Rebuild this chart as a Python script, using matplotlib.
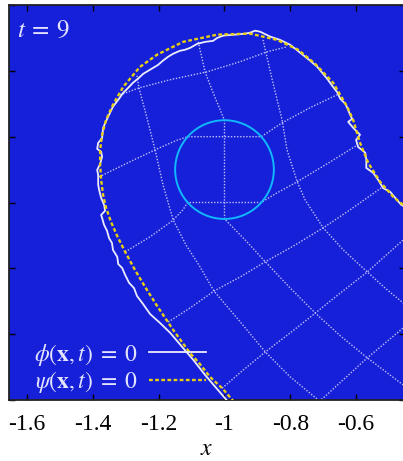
import matplotlib
matplotlib.use("Agg")
import matplotlib.pyplot as plt
from matplotlib.patches import Circle
from matplotlib.lines import Line2D

plt.rcParams['font.family'] = ['Liberation Serif', 'DejaVu Serif']
plt.rcParams['mathtext.fontset'] = 'stix'
plt.rcParams['axes.unicode_minus'] = False

# ---------------- data ----------------
time_label = r"$t\:=\:9$"
x_ticks = [-1.6, -1.4, -1.2, -1.0, -0.8, -0.6]
x_tick_labels = ["-1.6", "-1.4", "-1.2", "-1", "-0.8", "-0.6"]
y_ticks = [-0.6, -0.4, -0.2, 0.0, 0.2, 0.4, 0.6]

# psi(x,t)=0 : smooth interface (yellow dashed)
psi_x = [-0.971, -1.007, -1.044, -1.077, -1.105, -1.156, -1.205, -1.241, -1.272,
         -1.302, -1.326, -1.345, -1.360, -1.369, -1.375, -1.378, -1.378, -1.372,
         -1.360, -1.339, -1.308, -1.257, -1.205, -1.126, -1.022, -0.922, -0.840,
         -0.776, -0.724, -0.670, -0.627, -0.609, -0.588, -0.563, -0.527, -0.487,
         -0.457, -0.421]
psi_y = [-0.606, -0.564, -0.530, -0.488, -0.457, -0.387, -0.314, -0.257, -0.205,
         -0.150, -0.102, -0.059, -0.016, 0.023, 0.069, 0.114, 0.160, 0.206,
         0.251, 0.297, 0.351, 0.412, 0.449, 0.488, 0.510, 0.513, 0.494,
         0.464, 0.421, 0.364, 0.291, 0.251, 0.181, 0.120, 0.063, 0.017,
         -0.007, -0.032]

# phi(x,t)=0 : jagged interface (white)
phi_x = [-0.986, -1.022, -1.059, -1.095, -1.126, -1.165, -1.196, -1.226, -1.250,
         -1.266, -1.275, -1.290, -1.302, -1.311, -1.323, -1.326, -1.339, -1.342,
         -1.351, -1.357, -1.366, -1.372, -1.375, -1.363, -1.366, -1.375, -1.381,
         -1.384, -1.384, -1.387, -1.378, -1.372, -1.375, -1.387, -1.384, -1.372,
         -1.369, -1.354, -1.339, -1.323, -1.308, -1.293, -1.278, -1.263, -1.247,
         -1.232, -1.217, -1.202, -1.187, -1.171, -1.156, -1.135, -1.120, -1.104,
         -1.083, -1.059, -1.035, -1.022, -1.004, -0.968, -0.937, -0.922, -0.907,
         -0.892, -0.861, -0.831, -0.800, -0.770, -0.740, -0.718, -0.703, -0.688,
         -0.670, -0.658, -0.648, -0.633, -0.627, -0.618, -0.612, -0.624, -0.609,
         -0.588, -0.600, -0.594, -0.572, -0.569, -0.569, -0.548, -0.533, -0.518,
         -0.496, -0.481, -0.463, -0.436]
phi_y = [-0.609, -0.567, -0.524, -0.478, -0.442, -0.396, -0.366, -0.339, -0.305,
         -0.284, -0.260, -0.244, -0.220, -0.199, -0.187, -0.165, -0.144, -0.123,
         -0.108, -0.086, -0.068, -0.047, -0.038, -0.025, -0.007, 0.014, 0.038,
         0.054, 0.084, 0.099, 0.117, 0.139, 0.154, 0.163, 0.181, 0.196,
         0.227, 0.260, 0.291, 0.312, 0.333, 0.348, 0.364, 0.376, 0.391,
         0.400, 0.409, 0.418, 0.431, 0.443, 0.452, 0.461, 0.464, 0.470,
         0.482, 0.488, 0.491, 0.500, 0.507, 0.510, 0.513, 0.516, 0.522,
         0.519, 0.504, 0.494, 0.479, 0.455, 0.431, 0.412, 0.394, 0.376,
         0.351, 0.336, 0.315, 0.300, 0.288, 0.266, 0.254, 0.245, 0.227,
         0.206, 0.190, 0.169, 0.151, 0.130, 0.105, 0.090, 0.069, 0.044,
         0.032, 0.014, -0.007, -0.022]

# reference circle
circle_center_x = -1.0
circle_center_y = 0.1
circle_radius = 0.15

# deformed mesh lines (originally x = const)
mesh_xm12_x = [-1.266, -1.260, -1.238, -1.211, -1.187, -1.156, -1.117, -1.074, -1.032,
               -0.952, -0.876, -0.800, -0.715, -0.703]
mesh_xm12_y = [0.385, 0.348, 0.266, 0.160, 0.054, -0.053, -0.129, -0.196, -0.269,
               -0.363, -0.454, -0.530, -0.600, -0.609]
mesh_xm10_x = [-1.080, -1.059, -1.038, -1.022, -1.000, -1.000, -0.937, -0.876, -0.800,
               -0.724, -0.648, -0.566, -0.457, -0.420]
mesh_xm10_y = [0.488, 0.397, 0.342, 0.303, 0.250, -0.050, -0.114, -0.180, -0.260,
               -0.336, -0.405, -0.472, -0.554, -0.582]
mesh_xm08_x = [-0.883, -0.855, -0.825, -0.810, -0.779, -0.755, -0.700, -0.639, -0.566,
               -0.512, -0.457, -0.420]
mesh_xm08_y = [0.494, 0.373, 0.251, 0.160, 0.063, 0.008, -0.077, -0.144, -0.211,
               -0.260, -0.305, -0.332]

# deformed mesh lines (originally y = const)
mesh_y04_x = [-1.317, -1.260, -1.165, -1.053, -0.952, -0.870, -0.810]
mesh_y04_y = [0.327, 0.348, 0.373, 0.397, 0.428, 0.458, 0.473]
mesh_y02_x = [-1.381, -1.287, -1.211, -1.150, -1.112, -0.888, -0.825, -0.740, -0.658]
mesh_y02_y = [0.078, 0.124, 0.160, 0.187, 0.200, 0.200, 0.242, 0.288, 0.327]
mesh_y00_x = [-1.302, -1.226, -1.159, -1.126, -1.112, -0.888, -0.846, -0.779, -0.694, -0.600]
mesh_y00_y = [-0.150, -0.104, -0.056, -0.022, 0.000, 0.000, 0.026, 0.063, 0.114, 0.172]
mesh_ym02_x = [-1.171, -1.104, -1.032, -0.952, -0.876, -0.785, -0.700, -0.618, -0.524]
mesh_ym02_y = [-0.363, -0.320, -0.269, -0.226, -0.180, -0.129, -0.077, -0.022, 0.044]
mesh_ym04_x = [-1.007, -0.943, -0.876, -0.800, -0.724, -0.648, -0.566, -0.457, -0.420]
mesh_ym04_y = [-0.564, -0.509, -0.454, -0.396, -0.336, -0.275, -0.211, -0.114, -0.083]
mesh_ym06_x = [-0.721, -0.700, -0.633, -0.566, -0.512, -0.457, -0.420]
mesh_ym06_y = [-0.609, -0.594, -0.533, -0.472, -0.427, -0.381, -0.351]

mesh_lines = [
    (mesh_xm12_x, mesh_xm12_y), (mesh_xm10_x, mesh_xm10_y), (mesh_xm08_x, mesh_xm08_y),
    (mesh_y04_x, mesh_y04_y), (mesh_y02_x, mesh_y02_y), (mesh_y00_x, mesh_y00_y),
    (mesh_ym02_x, mesh_ym02_y), (mesh_ym04_x, mesh_ym04_y), (mesh_ym06_x, mesh_ym06_y),
]

label_phi = r"$\phi(\mathbf{x},t)\;=\;0$"
label_psi = r"$\psi(\mathbf{x},t)\;=\;0$"

# ---------------- styling ----------------
bg_blue = "#1620d8"
white_line = "#ececff"
yellow_line = "#e8cf10"
mesh_color = "#d0d0ff"
circle_color = "#10b8ff"
text_color = "#e4e4ff"

W, H = 403, 461
fig = plt.figure(figsize=(W / 100, H / 100), dpi=100)
left_px, right_px, top_px, bottom_px = 9, 404.5, 5, 400
ax = fig.add_axes([left_px / W, 1 - bottom_px / H,
                   (right_px - left_px) / W, (bottom_px - top_px) / H])
ax.set_facecolor(bg_blue)

for mx, my in mesh_lines:
    ax.plot(mx, my, color=mesh_color, lw=1.0, linestyle=(0, (1, 1.2)), alpha=0.9,
            zorder=2)

ax.add_patch(Circle((circle_center_x, circle_center_y), circle_radius, fill=False,
                    edgecolor=circle_color, lw=1.4, zorder=3))

ax.plot(phi_x, phi_y, color=white_line, lw=1.3, zorder=4)
ax.plot(psi_x, psi_y, color=yellow_line, lw=1.7, linestyle=(0, (1.6, 1.0)), zorder=5)

ax.set_xlim(-1.655, -1.655 + (right_px - left_px) * 0.2 / 65.8)
ax.set_ylim(-0.6, 0.6)

ax.set_xticks(x_ticks)
ax.set_xticklabels(x_tick_labels)
ax.set_yticks(y_ticks)
ax.set_yticklabels([])
ax.tick_params(direction='in', length=4.5, width=1.0, top=True, right=True,
               labelsize=17, pad=10, colors='black')
for s in ax.spines.values():
    s.set_linewidth(1.3)
    s.set_color('#222222')
ax.set_xlabel("$x$", fontsize=17, labelpad=3)

ax.text(0.02, 0.935, time_label, transform=ax.transAxes, fontsize=18,
        color=text_color, va='center', ha='left')

handles = [Line2D([], [], color=white_line, lw=1.3),
           Line2D([], [], color=yellow_line, lw=1.7, linestyle=(0, (1.6, 1.0)))]
leg = ax.legend(handles, [label_phi, label_psi], markerfirst=False, frameon=False,
                loc='lower left', bbox_to_anchor=(0.062, 0.013), fontsize=17,
                handlelength=2.4, handletextpad=0.5, labelspacing=0.05,
                borderaxespad=0, borderpad=0)
for t in leg.get_texts():
    t.set_color(text_color)

fig.savefig("out.png", dpi=100)
